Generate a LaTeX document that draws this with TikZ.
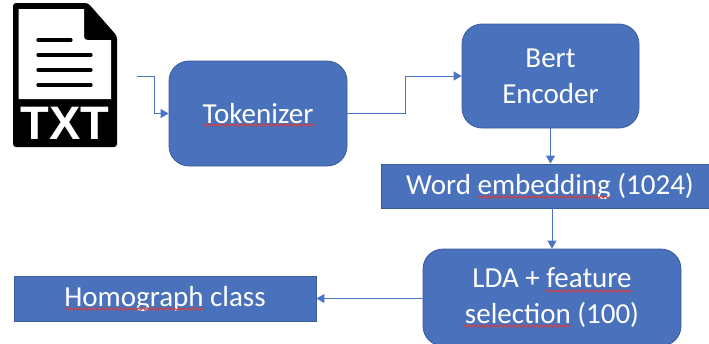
\documentclass[tikz,border=0pt]{standalone}
\usepackage{fontspec}
\setmainfont{Carlito}
\newfontfamily\iconfont{Liberation Sans}
\usetikzlibrary{arrows.meta,decorations.pathmorphing}
\definecolor{fillblue}{HTML}{4A71BC}
\definecolor{edgeblue}{HTML}{3A5C9C}
\definecolor{linkblue}{HTML}{4A74C4}
\definecolor{squigred}{HTML}{E03A34}
\tikzset{
  rbox/.style={draw=edgeblue,fill=fillblue,line width=0.8pt,rounded corners=20pt,text=white,align=center,font=\fontsize{29}{36}\selectfont,inner sep=0pt},
  sbox/.style={draw=edgeblue,fill=fillblue,line width=0.8pt,text=white,align=center,font=\fontsize{29}{36}\selectfont,inner sep=0pt},
  link/.style={draw=linkblue,line width=1pt,-{Triangle[length=8pt,width=9pt]}},
  squig/.style={draw=squigred,line width=1pt,decorate,decoration={snake,amplitude=1.1pt,segment length=4.5pt}},
  iconline2/.style={draw=black,line width=3.2pt,line cap=round}
}
\begin{document}
\begin{tikzpicture}[x=1pt,y=-1pt]
\useasboundingbox (0,0) rectangle (709,343);
\clip (0,0) rectangle (709,343);
% TXT icon
\fill[black,rounded corners=3pt] (13,3) -- (88,3) -- (117,36) -- (117,147) -- (13,147) -- cycle;
\fill[white] (18.5,9) -- (84,9) -- (84,36) .. controls (84,39) and (85,40) .. (88,40) -- (111,40) -- (111,99) -- (18.5,99) -- cycle;
\draw[iconline2] (38,40) -- (71,40);
\draw[iconline2] (38,55) -- (91,55);
\draw[iconline2] (38,70) -- (91,70);
\draw[iconline2] (38,85) -- (91,85);
\node[text=white,font=\iconfont\bfseries\fontsize{47}{47}\selectfont,inner sep=0pt] (txt) at (65,123) {TXT};
% boxes
\node[rbox,minimum width=178pt,minimum height=105pt] (tok) at (258,113.5) {Tokenizer};
\node[rbox,minimum width=177pt,minimum height=104pt] (bert) at (550.5,76) {Bert\\Encoder};
\node[sbox,minimum width=328pt,minimum height=44pt] (word) at (545,186) {\hspace{10pt}\raisebox{-1pt}{Word embedding (1024)}};
\node[rbox,minimum width=258pt,minimum height=97pt] (lda) at (552,297.5) {LDA + feature\\selection (100)};
\node[sbox,minimum width=302pt,minimum height=45pt] (homo) at (165,298.5) {\raisebox{-1pt}{Homograph class}};
% connectors
\coordinate (start) at (137,76);
\draw[link] (start) -- (154,76) -- (154,113.5) -- (tok.west);
\draw[link] (tok.east) -- (405,113.5) -- (405,76) -- (bert.west);
\draw[link] (bert.south) -- (bert.south |- word.north);
\draw[link] (lda.north |- word.south) -- (lda.north);
\draw[link] (lda.west |- homo.east) -- (homo.east);
% spell-check underlines
\draw[squig] (203,125) -- (315,125);
\draw[squig] (478,197) -- (610,197);
\draw[squig] (545,291) -- (632,291);
\draw[squig] (463,326) -- (571,326);
\draw[squig] (65,309) -- (203,309);
\end{tikzpicture}
\end{document}
